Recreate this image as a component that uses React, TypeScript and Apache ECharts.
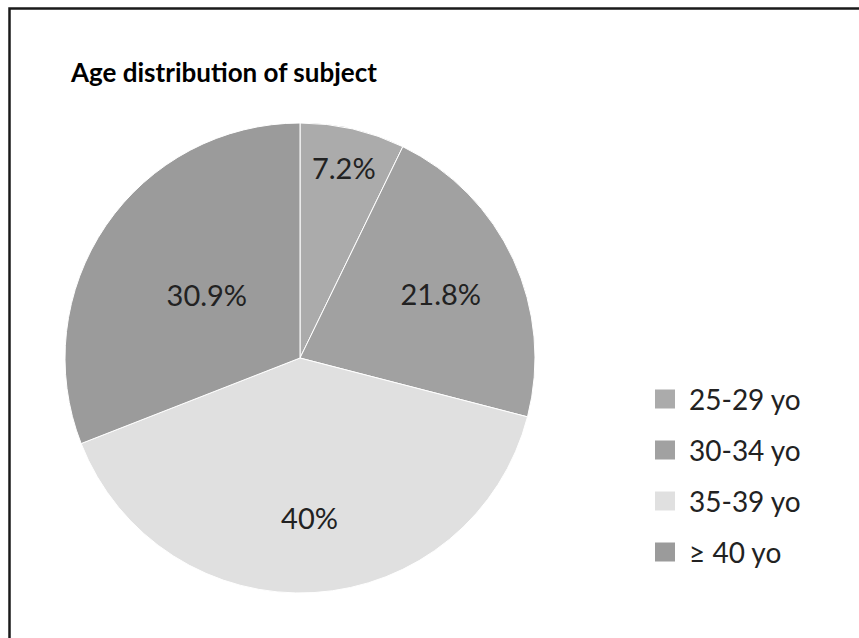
import React, { useEffect, useRef } from "react";
import * as echarts from "echarts";

const TITLE = "Age distribution of subject";
const categories = ["25-29 yo", "30-34 yo", "35-39 yo", "\u2265 40 yo"];
const values = [7.2, 21.8, 40, 30.9];
const labels = ["7.2%", "21.8%", "40%", "30.9%"];
const colors = ["#ababab", "#a1a1a1", "#e0e0e0", "#9b9b9b"];
// radial position of each label as a fraction of the radius
const labelFractions = [0.83, 0.66, 0.68, 0.48];

const CX = 300;
const CY = 358;
const R = 235;
const FONT = "Lato, 'Open Sans', sans-serif";

export default function App() {
  const ref = useRef<HTMLDivElement>(null);
  useEffect(() => {
    if (!ref.current) return;
    const chart = echarts.init(ref.current, undefined, { renderer: "svg" });
    const total = values.reduce((a, b) => a + b, 0);
    const mids: number[] = [];
    let acc = 0;
    values.forEach((v) => {
      mids.push(((acc + v / 2) / total) * Math.PI * 2);
      acc += v;
    });
    chart.setOption({
      animation: false,
      backgroundColor: "#ffffff",
      title: {
        text: TITLE,
        left: 66,
        top: 54,
        textStyle: { fontFamily: FONT, fontSize: 26, fontWeight: "bold", color: "#000" },
      },
      graphic: [
        {
          type: "rect",
          shape: { x: 9.5, y: 8.5, width: 1000, height: 1000 },
          style: { fill: "none", stroke: "#1a1a1a", lineWidth: 2.5 },
          silent: true,
        },
      ],
      legend: {
        orient: "vertical",
        left: 648,
        top: 380,
        itemWidth: 22,
        itemHeight: 21,
        itemGap: 23,
        icon: "rect",
        data: categories,
        textStyle: {
          fontFamily: FONT,
          fontSize: 28,
          color: "#222",
          padding: [0, 0, 0, 8],
        },
      },
      series: [
        {
          type: "pie",
          center: [CX, CY],
          radius: R,
          startAngle: 90,
          clockwise: true,
          avoidLabelOverlap: false,
          itemStyle: { borderColor: "#ffffff", borderWidth: 1 },
          label: {
            show: true,
            position: "inside",
            fontFamily: FONT,
            fontSize: 29,
            color: "#222",
            formatter: (p: any) => labels[p.dataIndex],
          },
          labelLine: { show: false },
          labelLayout: (p: any) => {
            const i = p.dataIndex;
            const a = mids[i];
            const f = labelFractions[i];
            return { x: CX + f * R * Math.sin(a), y: CY - f * R * Math.cos(a), align: "center", verticalAlign: "middle" };
          },
          emphasis: { disabled: true },
          data: categories.map((c, i) => ({ name: c, value: values[i], itemStyle: { color: colors[i] } })),
        },
      ],
    });
    return () => chart.dispose();
  }, []);
  return (
    <div
      ref={ref}
      style={{ position: "absolute", left: 0, top: 0, width: 859, height: 638, overflow: "hidden" }}
    />
  );
}
